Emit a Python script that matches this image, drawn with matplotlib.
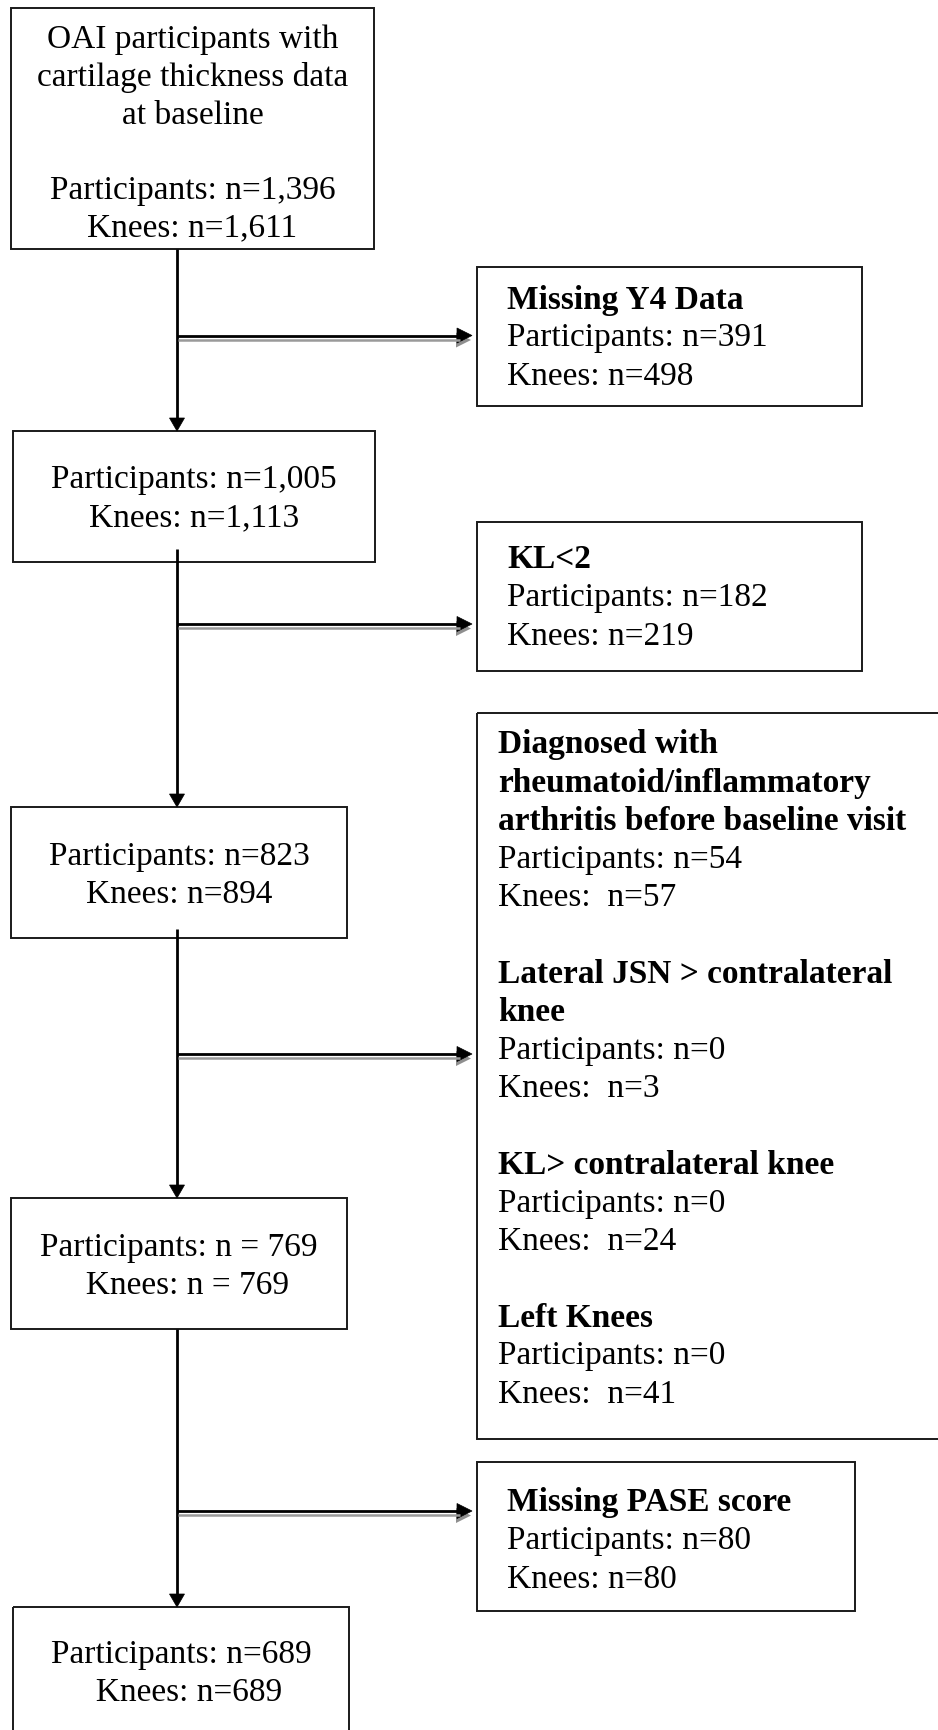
import matplotlib
matplotlib.use('Agg')
import matplotlib.pyplot as plt
from matplotlib.patches import Rectangle, Polygon

# 数据：各阶段保留的人数 / 膝关节数
participants = [1396, 1005, 823, 769, 689]
knees = [1611, 1113, 894, 769, 689]

# 排除原因及人数
excl_reasons = ['Missing Y4 Data', 'KL<2',
                'Diagnosed with\nrheumatoid/inflammatory\narthritis before baseline visit',
                'Lateral JSN > contralateral\nknee', 'KL> contralateral knee',
                'Left Knees', 'Missing PASE score']
excl_participants = [391, 182, 54, 0, 0, 0, 80]
excl_knees = [498, 219, 57, 3, 24, 41, 80]
excl_group = [0, 1, 2, 2, 2, 2, 3]  # which side box each reason goes in

W, H = 938, 1731
plt.rcParams['font.family'] = ['Liberation Serif', 'DejaVu Serif']
fig = plt.figure(figsize=(W / 100, H / 100), dpi=100)
ax = fig.add_axes([0, 0, 1, 1])
ax.set_xlim(0, W)
ax.set_ylim(H, 0)
ax.axis('off')

FS = 24
STEP = 38.2
VX = 177  # main vertical line

# layout (pixels): left, top, right, bottom
main_boxes = [(11, 9, 374, 250), (13, 432, 375, 563), (11, 808, 347, 939),
              (11, 1199, 347, 1330), (13, 1608, 349, 1760)]
main_first_y = [40, 480, 857, 1248, 1655]
side_boxes = [(477, 268, 862, 407), (477, 523, 862, 672),
              (477, 714, 960, 1440), (477, 1463, 855, 1612)]
side_text_x = [507, 507, 498, 507]
side_first_y = [300, 560, 745, 1503]
branch_y = [336.5, 625, 1055, 1512]
trunk_start = [250, 550, 930, 1330]


def box(l, t, r, b):
    ax.add_patch(Rectangle((l, t), r - l, b - t, fill=False,
                           ec='#1a1a1a', lw=1.4))


def fmt(n):
    return '{:,}'.format(n)


# main boxes
for i, (l, t, r, b) in enumerate(main_boxes):
    box(l, t, r, b)
    cx = (l + r) / 2
    if i == 0:
        lines = ['OAI participants with', 'cartilage thickness data',
                 'at baseline', '',
                 'Participants: n=' + fmt(participants[i]),
                 'Knees: n=' + fmt(knees[i])]
    elif i == 3:
        lines = ['Participants: n = ' + fmt(participants[i]),
                 '  Knees: n = ' + fmt(knees[i])]
    elif i == 4:
        lines = ['Participants: n=' + fmt(participants[i]),
                 '  Knees: n=' + fmt(knees[i])]
    else:
        lines = ['Participants: n=' + fmt(participants[i]),
                 'Knees: n=' + fmt(knees[i])]
    for k, s in enumerate(lines):
        if s:
            ax.text(cx, main_first_y[i] + k * 37.7, s, fontsize=FS,
                    ha='center', va='center')

# side boxes
for g, (l, t, r, b) in enumerate(side_boxes):
    box(l, t, r, b)
    y = side_first_y[g]
    first = True
    for j in range(len(excl_reasons)):
        if excl_group[j] != g:
            continue
        if not first:
            y += STEP  # blank line between reasons
        first = False
        for s in excl_reasons[j].split('\n'):
            ax.text(side_text_x[g], y, s, fontsize=FS, fontweight='bold',
                    ha='left', va='center')
            y += STEP
        sep = ' ' if g != 2 else '  '
        ax.text(side_text_x[g], y, 'Participants: n=%d' % excl_participants[j],
                fontsize=FS, ha='left', va='center')
        y += STEP
        ax.text(side_text_x[g], y, 'Knees:' + sep + 'n=%d' % excl_knees[j],
                fontsize=FS, ha='left', va='center')
        y += STEP

# vertical arrows
for i in range(4):
    tip = main_boxes[i + 1][1]
    ax.plot([VX, VX], [trunk_start[i], tip - 10], color='black', lw=2,
            solid_capstyle='butt')
    ax.add_patch(Polygon([(VX - 7.5, tip - 13), (VX + 7.5, tip - 13), (VX, tip)],
                         closed=True, fc='black', ec='black', lw=0.5))

# horizontal arrows with grey shadow
tip_x = 472
for y in branch_y:
    ax.plot([VX + 1, tip_x - 12], [y + 4, y + 4], color='#9a9a9a', lw=1.8,
            solid_capstyle='butt')
    ax.add_patch(Polygon([(tip_x - 16, y - 3), (tip_x - 16, y + 12), (tip_x - 1, y + 4.5)],
                         closed=True, fc='#8f8f8f', ec='none'))
    ax.plot([VX, tip_x - 12], [y, y], color='black', lw=2,
            solid_capstyle='butt')
    ax.add_patch(Polygon([(tip_x - 15, y - 7.5), (tip_x - 15, y + 7.5), (tip_x, y)],
                         closed=True, fc='black', ec='black', lw=0.5))

fig.savefig('out.png', dpi=100)
